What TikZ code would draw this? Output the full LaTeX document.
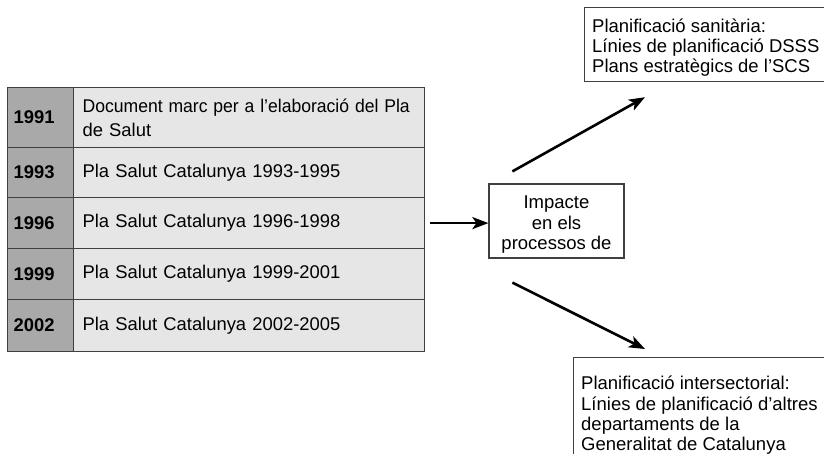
\documentclass[tikz,border=0pt]{standalone}
\usepackage{fontspec}
\setmainfont{Liberation Sans}
\usetikzlibrary{arrows.meta}
\definecolor{yearfill}{HTML}{A9A9A9}
\definecolor{textfill}{HTML}{E6E6E6}
\definecolor{edge}{HTML}{404040}
\begin{document}
\begin{tikzpicture}[x=1pt,y=-1pt,
  every node/.style={font=\fontsize{18.4}{24}\selectfont},
  yearcell/.style={draw=edge, line width=1.2pt, fill=yearfill, anchor=north west,
    minimum width=66pt, text width=54pt, inner xsep=6pt, inner ysep=0pt, align=left,
    font=\fontsize{18.4}{24}\selectfont\bfseries},
  textcell/.style={draw=edge, line width=1.2pt, fill=textfill, anchor=north west,
    minimum width=351pt, text width=333pt, inner xsep=9pt, inner ysep=0pt, align=left},
  framebox/.style={draw=edge, line width=1.2pt, anchor=north west, inner sep=0pt},
  boxtext/.style={anchor=north west, inner sep=0pt, align=left,
    font=\fontsize{18.5}{20.3}\selectfont},
  arr/.style={line width=2.6pt, -{Stealth[length=16pt,width=12pt,inset=4pt]}}
]
\useasboundingbox (0,0) rectangle (824,454);
\clip (0,0) rectangle (824,454);

% table rows
\node[yearcell, minimum height=60pt] (y1) at (7,87) {1991};
\node[textcell, minimum height=60pt] (t1) at (73,87) {\makebox[333pt][l]{\scalebox{0.955}[1]{Document marc per a l’elaboració del Pla}}\\de Salut};
\node[yearcell, minimum height=50pt] (y2) at (7,147) {1993};
\node[textcell, minimum height=50pt] (t2) at (73,147) {Pla Salut Catalunya 1993-1995};
\node[yearcell, minimum height=51pt] (y3) at (7,197) {1996};
\node[textcell, minimum height=51pt] (t3) at (73,197) {Pla Salut Catalunya 1996-1998};
\node[yearcell, minimum height=51pt] (y4) at (7,248) {1999};
\node[textcell, minimum height=51pt] (t4) at (73,248) {Pla Salut Catalunya 1999-2001};
\node[yearcell, minimum height=52pt] (y5) at (7,299) {2002};
\node[textcell, minimum height=52pt] (t5) at (73,299) {Pla Salut Catalunya 2002-2005};

% central box
\node[draw=edge, line width=1.2pt, minimum width=135pt, minimum height=74pt, inner sep=0pt] (imp) at (556.5,221) {};
\node[align=center, inner sep=0pt, font=\fontsize{18.5}{20.5}\selectfont] (imptext) at ([yshift=-3.8pt]imp.center) {Impacte\\en els\\processos de};

% top right box
\node[framebox, minimum width=260pt, minimum height=74pt] (san) at (584,7) {};
\node[boxtext] (santext) at (592,18.3) {Planificació sanitària:\\Línies de planificació DSSS\\Plans estratègics de l’SCS};

% bottom right box
\node[framebox, minimum width=270pt, minimum height=120pt] (inter) at (573,357) {};
\node[boxtext] (intertext) at (581,376) {Planificació intersectorial:\\Línies de planificació d’altres\\departaments de la\\Generalitat de Catalunya};

% arrows
\coordinate (a1) at ([xshift=5pt]t3.east);
\draw[arr] (a1) -- (imp.west |- a1);
\coordinate (a2) at ([xshift=24pt,yshift=12pt]imp.north west);
\coordinate (a2e) at ([xshift=61pt,yshift=-15pt]san.south west);
\draw[arr] (a2) -- (a2e);
\coordinate (a3) at ([xshift=24pt,yshift=-24pt]imp.south west);
\coordinate (a3e) at ([xshift=72pt,yshift=8pt]inter.north west);
\draw[arr] (a3) -- (a3e);
\end{tikzpicture}
\end{document}
